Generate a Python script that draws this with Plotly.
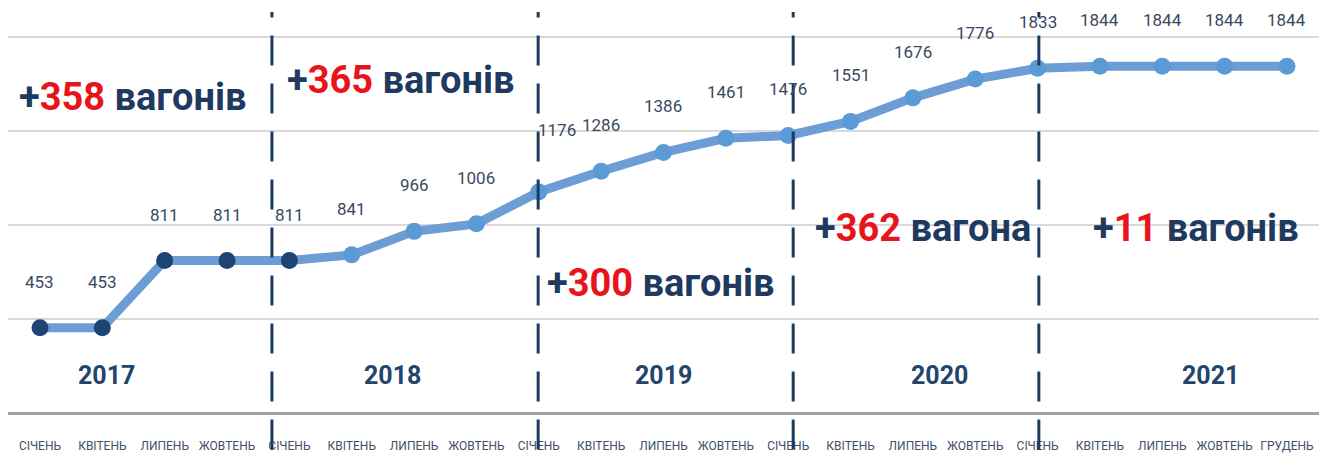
import plotly.graph_objects as go

months = ["СІЧЕНЬ", "КВІТЕНЬ", "ЛИПЕНЬ", "ЖОВТЕНЬ",
          "СІЧЕНЬ", "КВІТЕНЬ", "ЛИПЕНЬ", "ЖОВТЕНЬ",
          "СІЧЕНЬ", "КВІТЕНЬ", "ЛИПЕНЬ", "ЖОВТЕНЬ",
          "СІЧЕНЬ", "КВІТЕНЬ", "ЛИПЕНЬ", "ЖОВТЕНЬ",
          "СІЧЕНЬ", "КВІТЕНЬ", "ЛИПЕНЬ", "ЖОВТЕНЬ", "ГРУДЕНЬ"]
wagons = [453, 453, 811, 811,
          811, 841, 966, 1006,
          1176, 1286, 1386, 1461,
          1476, 1551, 1676, 1776,
          1833, 1844, 1844, 1844, 1844]
years = ["2017", "2018", "2019", "2020", "2021"]
year_label_x = [1.07, 5.65, 10.0, 14.43, 18.77]
year_separators = [3.72, 7.99, 12.08, 16.02]
growth_numbers = ["358", "365", "300", "362", "11"]
growth_words = ["вагонів", "вагонів", "вагонів", "вагона", "вагонів"]
growth_pos_x = [1.49, 5.79, 9.96, 14.16, 18.54]
growth_pos_y = [1681, 1771, 691, 984, 984]

NAVY = "#1f3a5f"
RED = "#e8141b"
LIGHT = "#5b9bd5"
DARK = "#1d4472"
COND = "Liberation Sans Narrow, Arial Narrow, Roboto, sans-serif"

x = list(range(len(wagons)))
marker_colors = [DARK if i < 5 else LIGHT for i in x]

fig = go.Figure()
fig.add_trace(go.Scatter(
    x=x, y=wagons, mode="lines+markers",
    line=dict(color="#6d9dd5", width=9),
    marker=dict(size=17, color=marker_colors, line=dict(width=0)),
    cliponaxis=False, hoverinfo="skip", showlegend=False,
))

annotations = []
label_shift = {8: (18, 62)}
for i, v in enumerate(wagons):
    dx, dy = label_shift.get(i, (0, 46))
    annotations.append(dict(
        x=i, y=v, text=str(v), showarrow=False, xshift=dx, yshift=dy,
        font=dict(family=COND, size=17, color="#3a4960"),
    ))

for yl, xp in zip(years, year_label_x):
    annotations.append(dict(
        x=xp, y=202, text=f"<b>{yl}</b>", showarrow=False,
        font=dict(family=COND, size=25, color="#23446b"),
    ))

for num, word, gx, gy in zip(growth_numbers, growth_words, growth_pos_x, growth_pos_y):
    annotations.append(dict(
        x=gx, y=gy, showarrow=False,
        text=f"<b>+<span style='color:{RED}'>{num}</span> {word}</b>",
        font=dict(family=COND, size=38, color=NAVY),
    ))

shapes = []
for s in year_separators:
    shapes.append(dict(
        type="line", xref="x", yref="paper", x0=s, x1=s, y0=-0.09, y1=0.99,
        line=dict(color=NAVY, width=3, dash="30px,18px"), layer="above",
    ))

fig.update_layout(
    width=1327, height=461,
    margin=dict(l=0, r=0, t=0, b=56),
    paper_bgcolor="white", plot_bgcolor="white",
    annotations=annotations, shapes=shapes,
    xaxis=dict(
        range=[-0.513, 20.77], tickvals=x, ticktext=months,
        showgrid=False, zeroline=False, showline=False,
        ticks="", ticklabelstandoff=24,
        tickfont=dict(family=COND, size=12, color="#3f4f68"),
        fixedrange=True,
    ),
    yaxis=dict(
        range=[0, 2154], tickvals=[0, 500, 1000, 1500, 2000],
        showticklabels=False, gridcolor="#d9d9d9", gridwidth=2,
        zeroline=True, zerolinecolor="#a3a3a3", zerolinewidth=3,
        showline=False, fixedrange=True,
    ),
)

fig.write_html("out.html")
